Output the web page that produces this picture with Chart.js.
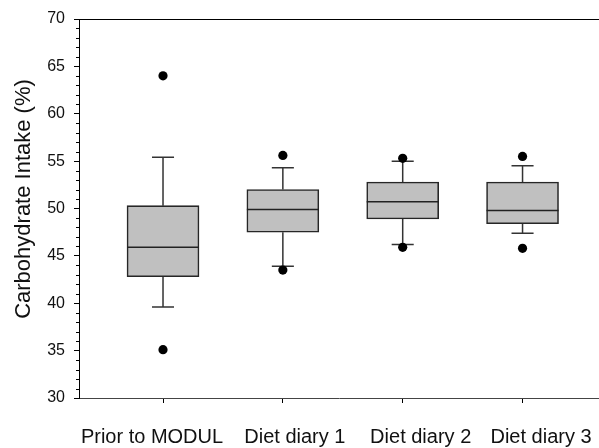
<!DOCTYPE html>
<html>
<head>
<meta charset="utf-8">
<script src="https://cdn.jsdelivr.net/npm/chart.js@4/dist/chart.umd.min.js"></script>
<style>
  html, body { margin: 0; padding: 0; background: #fff; }
  #wrap { width: 599px; height: 448px; position: relative; }
</style>
</head>
<body>
<div id="wrap"><canvas id="chart"></canvas></div>
<script>
const categories = [ 'Prior to MODUL', 'Diet diary 1', 'Diet diary 2', 'Diet diary 3' ]

// box plot summaries
const whiskerLow = [ 39.6, 43.9, 46.2, 47.4 ]
const q1 = [ 42.8, 47.5, 48.9, 48.4 ]
const median = [ 45.9, 49.9, 50.7, 49.8 ]
const q3 = [ 50.3, 52.0, 52.8, 52.8 ]
const whiskerHigh = [ 55.4, 54.3, 55.0, 54.5 ]
const outlierLow = [ 35.1, 43.5, 45.9, 45.8 ]
const outlierHigh = [ 64.0, 55.6, 55.3, 55.5 ]

const yTicks = [ 30, 35, 40, 45, 50, 55, 60, 65, 70 ]

const FONT = '"Liberation Sans", Arial, sans-serif'

// label shift from tick, as in the original export
const labelShift = [ -11, 12, 18, 18.5 ]

const boxes = categories.map( ( c, i ) => ( { x: i + 1, y: [ q1[ i ], q3[ i ] ] } ) )
const outliers = []
categories.forEach( ( c, i ) => {
   outliers.push( { x: i + 1, y: outlierLow[ i ] } )
   outliers.push( { x: i + 1, y: outlierHigh[ i ] } )
} )

const boxExtras = {
   id: 'boxExtras',
   beforeDatasetsDraw( chart ) {
      const { ctx, scales: { x, y } } = chart
      ctx.save()
      ctx.strokeStyle = '#333'
      ctx.lineWidth = 1.5
      categories.forEach( ( c, i ) => {
         const cx = x.getPixelForValue( i + 1 )
         const capL = x.getPixelForValue( i + 1 - 0.092 )
         const capR = x.getPixelForValue( i + 1 + 0.092 )
         ctx.beginPath()
         ctx.moveTo( cx, y.getPixelForValue( q3[ i ] ) )
         ctx.lineTo( cx, y.getPixelForValue( whiskerHigh[ i ] ) )
         ctx.moveTo( capL, y.getPixelForValue( whiskerHigh[ i ] ) )
         ctx.lineTo( capR, y.getPixelForValue( whiskerHigh[ i ] ) )
         ctx.moveTo( cx, y.getPixelForValue( q1[ i ] ) )
         ctx.lineTo( cx, y.getPixelForValue( whiskerLow[ i ] ) )
         ctx.moveTo( capL, y.getPixelForValue( whiskerLow[ i ] ) )
         ctx.lineTo( capR, y.getPixelForValue( whiskerLow[ i ] ) )
         ctx.stroke()
      } )
      ctx.restore()
   },
   afterDatasetsDraw( chart ) {
      const { ctx, scales: { x, y } } = chart
      ctx.save()
      ctx.strokeStyle = '#222'
      ctx.lineWidth = 1.5
      const half = chart.data.datasets[ 1 ].barThickness / 2
      categories.forEach( ( c, i ) => {
         const cx = x.getPixelForValue( i + 1 )
         const my = y.getPixelForValue( median[ i ] )
         ctx.beginPath()
         ctx.moveTo( cx - half, my )
         ctx.lineTo( cx + half, my )
         ctx.stroke()
      } )
      ctx.restore()
   },
   afterDraw( chart ) {
      const { ctx, chartArea, scales: { x, y } } = chart
      ctx.save()

      // top frame line
      ctx.strokeStyle = '#000'
      ctx.lineWidth = 1
      ctx.beginPath()
      ctx.moveTo( chartArea.left, chartArea.top + 0.5 )
      ctx.lineTo( chart.width, chartArea.top + 0.5 )
      ctx.stroke()

      // minor ticks on y
      ctx.beginPath()
      for ( let v = 30; v <= 70; v++ ) {
         if ( v % 5 === 0 ) continue
         const py = Math.round( y.getPixelForValue( v ) ) + 0.5
         ctx.moveTo( chartArea.left - 3, py )
         ctx.lineTo( chartArea.left, py )
      }
      ctx.stroke()

      // category labels
      ctx.fillStyle = '#111'
      ctx.font = '20px ' + FONT
      ctx.textAlign = 'center'
      ctx.textBaseline = 'alphabetic'
      categories.forEach( ( c, i ) => {
         ctx.fillText( c, x.getPixelForValue( i + 1 ) + labelShift[ i ], 443 )
      } )

      // y title
      ctx.translate( 24, 199 )
      ctx.rotate( -Math.PI / 2 )
      ctx.font = '22px ' + FONT
      ctx.textBaseline = 'middle'
      ctx.fillText( 'Carbohydrate Intake (%)', 0, 0 )
      ctx.restore()
   },
}

new Chart( document.getElementById( 'chart' ), {
   type: 'bar',
   data: {
      datasets: [
         {
            type: 'scatter',
            data: outliers,
            order: 0,
            pointRadius: 4.6,
            pointBackgroundColor: '#000',
            pointBorderWidth: 0,
         },
         {
            type: 'bar',
            data: boxes,
            order: 1,
            barThickness: 72,
            backgroundColor: '#c0c0c0',
            borderColor: '#262626',
            borderWidth: 1.6,
            borderSkipped: false,
         },
      ],
   },
   plugins: [ boxExtras ],
   options: {
      responsive: true,
      maintainAspectRatio: false,
      animation: false,
      layout: { autoPadding: false, padding: { top: 19, right: 0, left: 0, bottom: 0 } },
      plugins: {
         legend: { display: false },
         tooltip: { enabled: false },
      },
      scales: {
         x: {
            type: 'linear',
            offset: false,
            bounds: 'data',
            min: 0.299,
            max: 4.638,
            afterBuildTicks( scale ) {
               scale.ticks = categories.map( ( c, i ) => ( { value: i + 1 } ) )
            },
            afterFit( scale ) {
               scale.height = 50
               scale.paddingLeft = 0
               scale.paddingRight = 0
            },
            ticks: { display: false },
            grid: { drawOnChartArea: false, offset: false, tickLength: 5, tickColor: '#000' },
            border: { color: '#444', width: 1 },
         },
         y: {
            type: 'linear',
            min: 30,
            max: 70,
            afterBuildTicks( scale ) {
               scale.ticks = yTicks.map( ( v ) => ( { value: v } ) )
            },
            afterFit( scale ) {
               scale.width = 79
            },
            ticks: {
               color: '#111',
               padding: 9,
               font: { family: FONT, size: 16 },
            },
            grid: { drawOnChartArea: false, tickLength: 5, tickColor: '#000' },
            border: { color: '#000', width: 1 },
         },
      },
   },
} )
</script>
</body>
</html>
